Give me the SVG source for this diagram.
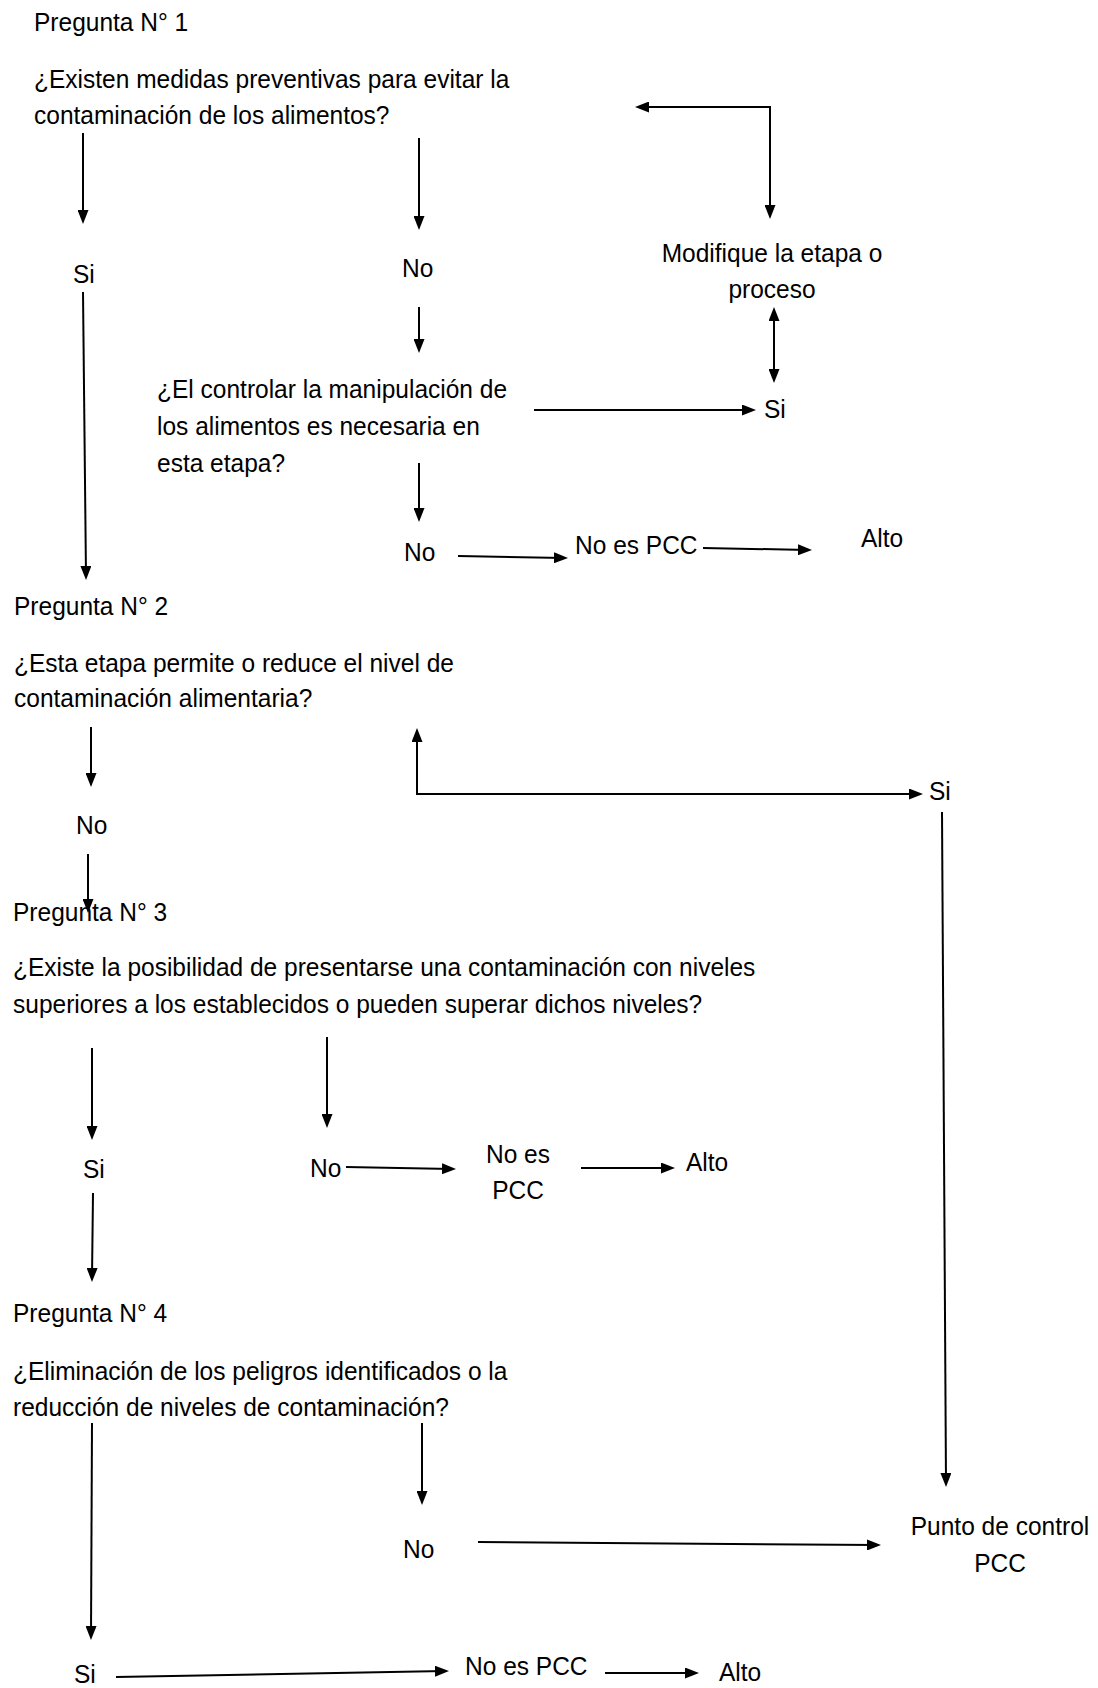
<svg xmlns="http://www.w3.org/2000/svg" width="1098" height="1688" viewBox="0 0 1098 1688">
<style>
text{font-family:"Liberation Sans",Arial,sans-serif;font-size:25.8px;fill:#000}
.m{text-anchor:middle}
.c{fill:none;stroke:#000;stroke-width:2}
</style>
<defs>
<marker id="ah" markerUnits="userSpaceOnUse" markerWidth="14" markerHeight="11" refX="10" refY="5.5" orient="auto-start-reverse">
<path d="M0,0 L14,5.5 L0,11 Z" fill="#000"/>
</marker>
</defs>
<rect width="1098" height="1688" fill="#fff"/>
<g id="connectors">
<path class="c" d="M83,133 L83,220" marker-end="url(#ah)"/>
<path class="c" d="M419,138 L419,226" marker-end="url(#ah)"/>
<path class="c" d="M83,292 L86,576" marker-end="url(#ah)"/>
<path class="c" d="M419,307 L419,349" marker-end="url(#ah)"/>
<path class="c" d="M419,463 L419,518" marker-end="url(#ah)"/>
<path class="c" d="M458,556 L564,558" marker-end="url(#ah)"/>
<path class="c" d="M703,548 L808,550" marker-end="url(#ah)"/>
<path class="c" d="M534,410 L752,410" marker-end="url(#ah)"/>
<path class="c" d="M774,311 L774,379" marker-start="url(#ah)" marker-end="url(#ah)"/>
<path class="c" d="M639,107 L770,107 L770,215" marker-start="url(#ah)" marker-end="url(#ah)"/>
<path class="c" d="M91,727 L91,783" marker-end="url(#ah)"/>
<path class="c" d="M88,854 L88,909" marker-end="url(#ah)"/>
<path class="c" d="M417,732 L417,794 L919,794" marker-start="url(#ah)" marker-end="url(#ah)"/>
<path class="c" d="M942,812 L946,1483" marker-end="url(#ah)"/>
<path class="c" d="M92,1048 L92,1136" marker-end="url(#ah)"/>
<path class="c" d="M327,1037 L327,1124" marker-end="url(#ah)"/>
<path class="c" d="M346,1167 L452,1169" marker-end="url(#ah)"/>
<path class="c" d="M581,1168 L671,1168" marker-end="url(#ah)"/>
<path class="c" d="M93,1193 L92,1278" marker-end="url(#ah)"/>
<path class="c" d="M92,1423 L91,1636" marker-end="url(#ah)"/>
<path class="c" d="M422,1423 L422,1501" marker-end="url(#ah)"/>
<path class="c" d="M478,1542 L877,1545" marker-end="url(#ah)"/>
<path class="c" d="M116,1677 L445,1671" marker-end="url(#ah)"/>
<path class="c" d="M605,1673 L695,1673" marker-end="url(#ah)"/>
</g>
<g id="q1"><text transform="matrix(.95 0 0 1 34 31)">Pregunta N° 1</text><text transform="matrix(.95 0 0 1 34 88)"><tspan x="0" y="0">¿Existen medidas preventivas para evitar la</tspan><tspan x="0" y="36">contaminación de los alimentos?</tspan></text></g>
<g id="q1-si"><text transform="matrix(.95 0 0 1 73 283)">Si</text></g>
<g id="q1-no"><text transform="matrix(.95 0 0 1 402 277)">No</text></g>
<g id="modifique"><text class="m" transform="matrix(.95 0 0 1 772 262)"><tspan x="0" y="0">Modifique la etapa o</tspan><tspan x="0" y="36">proceso</tspan></text></g>
<g id="q1b"><text transform="matrix(.95 0 0 1 157 398)"><tspan x="0" y="0">¿El controlar la manipulación de</tspan><tspan x="0" y="37">los alimentos es necesaria en</tspan><tspan x="0" y="74">esta etapa?</tspan></text></g>
<g id="q1b-si"><text transform="matrix(.95 0 0 1 764 418)">Si</text></g>
<g id="q1b-no"><text transform="matrix(.95 0 0 1 404 561)">No</text></g>
<g id="nopcc1"><text transform="matrix(.95 0 0 1 575 554)">No es PCC</text></g>
<g id="alto1"><text transform="matrix(.95 0 0 1 861 547)">Alto</text></g>
<g id="q2"><text transform="matrix(.95 0 0 1 14 615)">Pregunta N° 2</text><text transform="matrix(.95 0 0 1 14 672)"><tspan x="0" y="0">¿Esta etapa permite o reduce el nivel de</tspan><tspan x="0" y="35">contaminación alimentaria?</tspan></text></g>
<g id="q2-si"><text transform="matrix(.95 0 0 1 929 800)">Si</text></g>
<g id="q2-no"><text transform="matrix(.95 0 0 1 76 834)">No</text></g>
<g id="q3"><text transform="matrix(.95 0 0 1 13 921)">Pregunta N° 3</text><text transform="matrix(.95 0 0 1 13 976)"><tspan x="0" y="0">¿Existe la posibilidad de presentarse una contaminación con niveles</tspan><tspan x="0" y="37">superiores a los establecidos o pueden superar dichos niveles?</tspan></text></g>
<g id="q3-si"><text transform="matrix(.95 0 0 1 83 1178)">Si</text></g>
<g id="q3-no"><text transform="matrix(.95 0 0 1 310 1177)">No</text></g>
<g id="nopcc2"><text class="m" transform="matrix(.95 0 0 1 518 1163)"><tspan x="0" y="0">No es</tspan><tspan x="0" y="36">PCC</tspan></text></g>
<g id="alto2"><text transform="matrix(.95 0 0 1 686 1171)">Alto</text></g>
<g id="q4"><text transform="matrix(.95 0 0 1 13 1322)">Pregunta N° 4</text><text transform="matrix(.95 0 0 1 13 1380)"><tspan x="0" y="0">¿Eliminación de los peligros identificados o la</tspan><tspan x="0" y="36">reducción de niveles de contaminación?</tspan></text></g>
<g id="q4-no"><text transform="matrix(.95 0 0 1 403 1558)">No</text></g>
<g id="pcc"><text class="m" transform="matrix(.95 0 0 1 1000 1535)"><tspan x="0" y="0">Punto de control</tspan><tspan x="0" y="37">PCC</tspan></text></g>
<g id="q4-si"><text transform="matrix(.95 0 0 1 74 1683)">Si</text></g>
<g id="nopcc3"><text transform="matrix(.95 0 0 1 465 1675)">No es PCC</text></g>
<g id="alto3"><text transform="matrix(.95 0 0 1 719 1681)">Alto</text></g>
</svg>
